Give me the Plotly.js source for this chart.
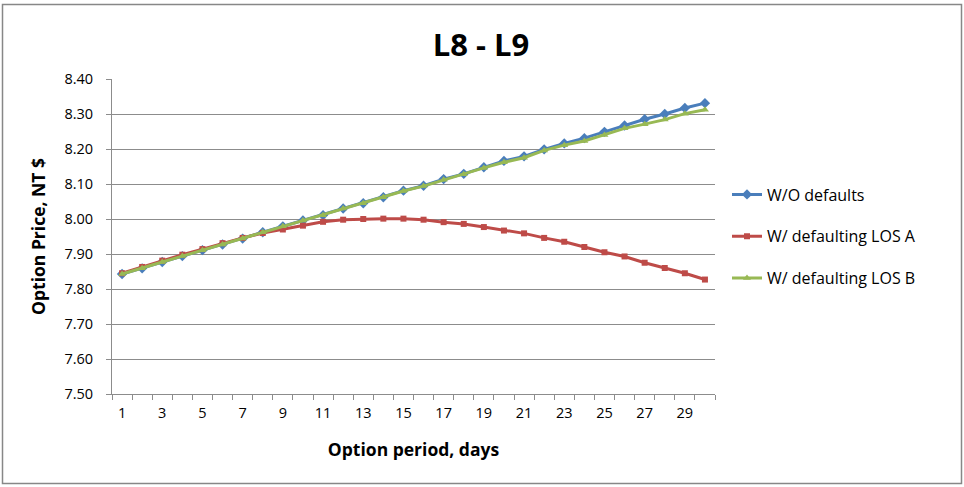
<!DOCTYPE html>
<html>
<head>
<meta charset="utf-8">
<script src="https://cdn.plot.ly/plotly-3.0.1.min.js"></script>
<style>html,body{margin:0;padding:0;background:#fff;}#chart{width:964px;height:487px;}</style>
</head>
<body>
<div id="chart"></div>
<script>
const days = [1,2,3,4,5,6,7,8,9,10,11,12,13,14,15,16,17,18,19,20,21,22,23,24,25,26,27,28,29,30];
const tickDays = [1,3,5,7,9,11,13,15,17,19,21,23,25,27,29];
const tickLabels = ["1","3","5","7","9","11","13","15","17","19","21","23","25","27","29"];
const withoutDefaults = [7.843,7.859,7.877,7.894,7.911,7.927,7.944,7.962,7.979,7.996,8.011,8.030,8.045,8.062,8.081,8.095,8.114,8.129,8.148,8.166,8.179,8.199,8.216,8.231,8.249,8.267,8.285,8.300,8.317,8.331];
const losA = [7.845,7.863,7.881,7.898,7.914,7.931,7.946,7.960,7.970,7.981,7.992,7.998,8.000,8.001,8.001,7.998,7.991,7.986,7.977,7.967,7.959,7.946,7.935,7.920,7.905,7.893,7.875,7.860,7.845,7.827];
const losB = [7.843,7.859,7.877,7.894,7.911,7.927,7.944,7.962,7.979,7.996,8.011,8.030,8.045,8.062,8.080,8.094,8.112,8.128,8.146,8.162,8.175,8.196,8.211,8.223,8.240,8.259,8.271,8.284,8.301,8.312];
const names = ["W/O defaults","W/ defaulting LOS A","W/ defaulting LOS B"];

const font = "Open Sans, Noto Sans, sans-serif";
const grid = "#8c8c8c";

function tr(y, name, color, symbol, size, grp){
  return {x: days, y: y, name: name, type: "scatter", mode: "lines+markers",
    legendgroup: grp,
    line: {color: color, width: 3},
    marker: {color: color, symbol: symbol, size: size}};
}
const data = [
  tr(withoutDefaults, names[0], "#4A7EBB", "diamond", 8, "a"),
  tr(losA, names[1], "#BE4B48", "square", 6, "b"),
  tr(losB, names[2], "#98B954", "triangle-up", 7, "c")
];

const layout = {
  width: 964, height: 487,
  margin: {l: 112, r: 249, t: 79, b: 93},
  paper_bgcolor: "#fff", plot_bgcolor: "#fff",
  font: {family: font, color: "#000", size: 14},
  title: {text: "<b>L8 - L9</b>", x: 481/964, xanchor: "center", y: 1 - 45/487, yanchor: "middle",
          font: {family: font, size: 31, color: "#000"}},
  showlegend: true,
  legend: {x: (727-112)/603, xanchor: "left", y: 0.5, yanchor: "middle",
           font: {family: font, size: 16, color: "#000"},
           traceorder: "grouped", tracegroupgap: 18, bgcolor: "rgba(0,0,0,0)"},
  xaxis: {
    range: [0.5, 30.5], tickmode: "array", tickvals: tickDays, ticktext: tickLabels,
    ticks: "", showgrid: false, zeroline: false,
    showline: true, linecolor: grid, linewidth: 1,
    tickfont: {family: font, size: 14.5, color: "#000"},
    ticklabelstandoff: 6,
    minor: {tick0: 0.5, dtick: 1, ticks: "outside", ticklen: 5, tickcolor: grid, showgrid: false},
    title: {text: "<b>Option period, days</b>", font: {family: font, size: 17.5, color: "#000"}, standoff: 22},
    fixedrange: true
  },
  yaxis: {
    range: [7.5, 8.4], dtick: 0.1, tick0: 7.5, tickformat: ".2f",
    ticks: "outside", ticklen: 5, tickcolor: grid,
    showgrid: true, gridcolor: grid, gridwidth: 1, zeroline: false,
    showline: true, linecolor: grid, linewidth: 1,
    tickfont: {family: font, size: 14.5, color: "#000"},
    ticklabelstandoff: 10,
    title: {text: "<b>Option Price, NT $</b>", font: {family: font, size: 17.5, color: "#000"}, standoff: 14},
    fixedrange: true
  },
  shapes: [{type: "rect", xref: "paper", yref: "paper",
    x0: (2.5-112)/603, x1: (961.5-112)/603, y0: (394-483.5)/315, y1: (394-4.5)/315,
    line: {color: "#878787", width: 1.5}, fillcolor: "rgba(0,0,0,0)", layer: "below"}]
};

Plotly.newPlot("chart", data, layout, {displayModeBar: false, staticPlot: true});
</script>
</body>
</html>
